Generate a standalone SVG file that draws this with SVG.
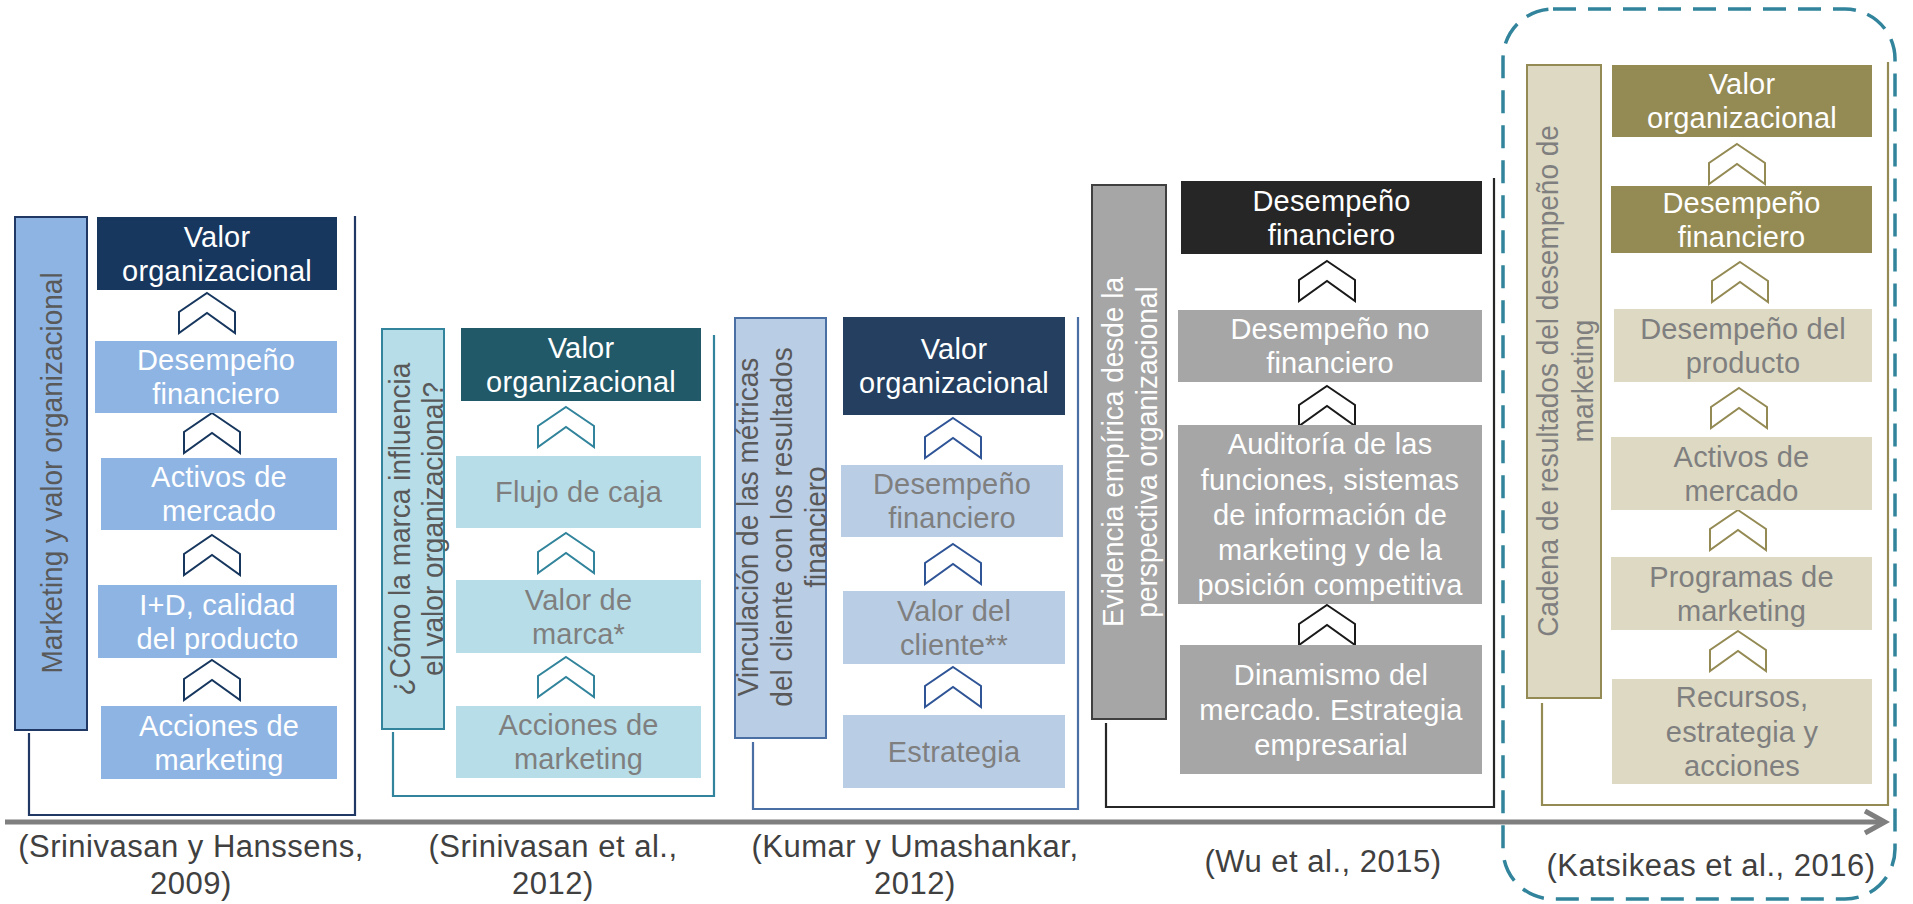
<svg xmlns="http://www.w3.org/2000/svg" xmlns:xlink="http://www.w3.org/1999/xlink" width="1913" height="904" viewBox="0 0 1913 904">
<style>
text{font-family:"Liberation Sans",Arial,sans-serif}
.n{font-size:29px;text-anchor:middle;letter-spacing:0.2px}
.w{fill:#FFFFFF}
.g{fill:#7F7F7F}
.side{font-size:30px;text-anchor:middle}
.lab{font-size:31px;text-anchor:middle;fill:#404040;letter-spacing:0.5px}
.br{fill:none;stroke-width:2.2}
.ch{stroke-width:2}
</style>
<defs>
<path id="chev" d="M0,0 L28,19 L28,40 L0,20 L-28,40 L-28,19 Z" fill="#FFFFFF"/>
<marker id="arr" viewBox="0 0 30 30" refX="25" refY="15" markerWidth="30" markerHeight="30" markerUnits="userSpaceOnUse" orient="auto">
<path d="M5,4 L25,15 L5,26" fill="none" stroke="#7F7F7F" stroke-width="5"/>
</marker>
</defs>
<rect width="1913" height="904" fill="#FFFFFF"/>

<g id="connectors">
<path class="br" stroke="#1F3864" d="M29,733 V815 H355 V216"/>
<path class="br" stroke="#31849B" d="M393,732 V796 H714 V335"/>
<path class="br" stroke="#4A6FA5" d="M753,742 V809 H1078 V317"/>
<path class="br" stroke="#262626" d="M1106,723 V807 H1494 V178"/>
<path class="br" stroke="#948A54" d="M1542,703 V805 H1888 V62"/>
<line x1="5" y1="822" x2="1885" y2="822" stroke="#7F7F7F" stroke-width="5" marker-end="url(#arr)"/>
<g class="ch" stroke="#17375E">
<use href="#chev" x="207" y="293"/>
<use href="#chev" x="212" y="413"/>
<use href="#chev" x="212" y="535"/>
<use href="#chev" x="212" y="660"/>
</g>
<g class="ch" stroke="#31849B">
<use href="#chev" x="566" y="407"/>
<use href="#chev" x="566" y="533"/>
<use href="#chev" x="566" y="657"/>
</g>
<g class="ch" stroke="#2F5597">
<use href="#chev" x="953" y="418"/>
<use href="#chev" x="953" y="544"/>
<use href="#chev" x="953" y="667"/>
</g>
<g class="ch" stroke="#1A1A1A">
<use href="#chev" x="1327" y="261"/>
<use href="#chev" x="1327" y="386"/>
<use href="#chev" x="1327" y="605"/>
</g>
<g class="ch" stroke="#948A54">
<use href="#chev" x="1737" y="144"/>
<use href="#chev" x="1740" y="262"/>
<use href="#chev" x="1739" y="388"/>
<use href="#chev" x="1738" y="510"/>
<use href="#chev" x="1738" y="631"/>
</g>
</g>

<g id="highlight">
<rect x="1503" y="9" width="392" height="890" rx="50" ry="50" fill="none" stroke="#31849B" stroke-width="3.5" stroke-dasharray="23 12"/>
</g>

<!-- Section 1 -->
<g id="s1-side">
<rect x="15" y="217" width="72" height="513" fill="#8EB4E3" stroke="#1F3864" stroke-width="2"/>
<text class="side" fill="#595959" transform="translate(62,473) rotate(-90) scale(0.933,1)">Marketing y valor organizacional</text>
</g>
<g id="s1-valor">
<rect x="97" y="217" width="240" height="73" fill="#17375E"/>
<text class="n w" x="217" y="246.5">Valor</text>
<text class="n w" x="217" y="280.5">organizacional</text>
</g>
<g id="s1-desempeno">
<rect x="95" y="341" width="242" height="72" fill="#8EB4E3"/>
<text class="n w" x="216" y="370">Desempeño</text>
<text class="n w" x="216" y="404">financiero</text>
</g>
<g id="s1-activos">
<rect x="101" y="458" width="236" height="72" fill="#8EB4E3"/>
<text class="n w" x="219" y="487">Activos de</text>
<text class="n w" x="219" y="521">mercado</text>
</g>
<g id="s1-id">
<rect x="98" y="585" width="239" height="73" fill="#8EB4E3"/>
<text class="n w" x="217.5" y="614.5">I+D, calidad</text>
<text class="n w" x="217.5" y="648.5">del producto</text>
</g>
<g id="s1-acciones">
<rect x="101" y="706" width="236" height="73" fill="#8EB4E3"/>
<text class="n w" x="219" y="735.5">Acciones de</text>
<text class="n w" x="219" y="769.5">marketing</text>
</g>
<g id="s1-label">
<text class="lab" x="191" y="857">(Srinivasan y Hanssens,</text>
<text class="lab" x="191" y="894">2009)</text>
</g>

<!-- Section 2 -->
<g id="s2-side">
<rect x="382" y="329" width="62" height="400" fill="#B7DDE8" stroke="#31849B" stroke-width="2"/>
<text class="side" fill="#595959" transform="translate(410,529) rotate(-90) scale(0.933,1)">¿Cómo la marca influencia</text>
<text class="side" fill="#595959" transform="translate(443,529) rotate(-90) scale(0.933,1)">el valor organizacional?</text>
</g>
<g id="s2-valor">
<rect x="461" y="328" width="240" height="73" fill="#215968"/>
<text class="n w" x="581" y="357.5">Valor</text>
<text class="n w" x="581" y="391.5">organizacional</text>
</g>
<g id="s2-flujo">
<rect x="456" y="456" width="245" height="72" fill="#B7DDE8"/>
<text class="n g" x="578.5" y="502">Flujo de caja</text>
</g>
<g id="s2-marca">
<rect x="456" y="580" width="245" height="73" fill="#B7DDE8"/>
<text class="n g" x="578.5" y="609.5">Valor de</text>
<text class="n g" x="578.5" y="643.5">marca*</text>
</g>
<g id="s2-acciones">
<rect x="456" y="706" width="245" height="72" fill="#B7DDE8"/>
<text class="n g" x="578.5" y="735">Acciones de</text>
<text class="n g" x="578.5" y="769">marketing</text>
</g>
<g id="s2-label">
<text class="lab" x="553" y="857">(Srinivasan et al.,</text>
<text class="lab" x="553" y="894">2012)</text>
</g>

<!-- Section 3 -->
<g id="s3-side">
<rect x="735" y="318" width="91" height="420" fill="#B9CDE5" stroke="#4A6FA5" stroke-width="2"/>
<text class="side" fill="#595959" transform="translate(758,527) rotate(-90) scale(0.933,1)">Vinculación de las métricas</text>
<text class="side" fill="#595959" transform="translate(792,527) rotate(-90) scale(0.933,1)">del cliente con los resultados</text>
<text class="side" fill="#595959" transform="translate(826,527) rotate(-90) scale(0.933,1)">financiero</text>
</g>
<g id="s3-valor">
<rect x="843" y="317" width="222" height="98" fill="#243F60"/>
<text class="n w" x="954" y="359">Valor</text>
<text class="n w" x="954" y="393">organizacional</text>
</g>
<g id="s3-desempeno">
<rect x="841" y="465" width="222" height="72" fill="#B9CDE5"/>
<text class="n g" x="952" y="494">Desempeño</text>
<text class="n g" x="952" y="528">financiero</text>
</g>
<g id="s3-cliente">
<rect x="843" y="591" width="222" height="73" fill="#B9CDE5"/>
<text class="n g" x="954" y="620.5">Valor del</text>
<text class="n g" x="954" y="654.5">cliente**</text>
</g>
<g id="s3-estrategia">
<rect x="843" y="715" width="222" height="73" fill="#B9CDE5"/>
<text class="n g" x="954" y="761.5">Estrategia</text>
</g>
<g id="s3-label">
<text class="lab" x="915" y="857">(Kumar y Umashankar,</text>
<text class="lab" x="915" y="894">2012)</text>
</g>

<!-- Section 4 -->
<g id="s4-side">
<rect x="1092" y="185" width="74" height="534" fill="#A6A6A6" stroke="#404040" stroke-width="2"/>
<text class="side" fill="#FFFFFF" transform="translate(1123,452) rotate(-90) scale(0.933,1)">Evidencia empírica desde la</text>
<text class="side" fill="#FFFFFF" transform="translate(1157,452) rotate(-90) scale(0.933,1)">perspectiva organizacional</text>
</g>
<g id="s4-financiero">
<rect x="1181" y="181" width="301" height="73" fill="#262626"/>
<text class="n w" x="1331.5" y="210.5">Desempeño</text>
<text class="n w" x="1331.5" y="244.5">financiero</text>
</g>
<g id="s4-nofinanciero">
<rect x="1178" y="310" width="304" height="72" fill="#A6A6A6"/>
<text class="n w" x="1330" y="339">Desempeño no</text>
<text class="n w" x="1330" y="373">financiero</text>
</g>
<g id="s4-auditoria">
<rect x="1178" y="425" width="304" height="179" fill="#A6A6A6"/>
<text class="n w" x="1330" y="454">Auditoría de las</text>
<text class="n w" x="1330" y="489.5">funciones, sistemas</text>
<text class="n w" x="1330" y="524.5">de información de</text>
<text class="n w" x="1330" y="559.5">marketing y de la</text>
<text class="n w" x="1330" y="595">posición competitiva</text>
</g>
<g id="s4-dinamismo">
<rect x="1180" y="645" width="302" height="129" fill="#A6A6A6"/>
<text class="n w" x="1331" y="684.5">Dinamismo del</text>
<text class="n w" x="1331" y="719.5">mercado. Estrategia</text>
<text class="n w" x="1331" y="754.5">empresarial</text>
</g>
<g id="s4-label">
<text class="lab" x="1323" y="872">(Wu et al., 2015)</text>
</g>

<!-- Section 5 -->
<g id="s5-side">
<rect x="1527" y="65" width="74" height="633" fill="#DDD9C3" stroke="#948A54" stroke-width="2"/>
<text class="side" fill="#7F7F7F" transform="translate(1558,381) rotate(-90) scale(0.933,1)">Cadena de resultados del desempeño de</text>
<text class="side" fill="#7F7F7F" transform="translate(1593,381) rotate(-90) scale(0.933,1)">marketing</text>
</g>
<g id="s5-valor">
<rect x="1612" y="65" width="260" height="72" fill="#948A54"/>
<text class="n w" x="1742" y="94">Valor</text>
<text class="n w" x="1742" y="128">organizacional</text>
</g>
<g id="s5-financiero">
<rect x="1611" y="186" width="261" height="67" fill="#948A54"/>
<text class="n w" x="1741.5" y="212.5">Desempeño</text>
<text class="n w" x="1741.5" y="246.5">financiero</text>
</g>
<g id="s5-producto">
<rect x="1614" y="309" width="258" height="73" fill="#DDD9C3"/>
<text class="n g" x="1743" y="338.5">Desempeño del</text>
<text class="n g" x="1743" y="372.5">producto</text>
</g>
<g id="s5-activos">
<rect x="1611" y="437" width="261" height="73" fill="#DDD9C3"/>
<text class="n g" x="1741.5" y="466.5">Activos de</text>
<text class="n g" x="1741.5" y="500.5">mercado</text>
</g>
<g id="s5-programas">
<rect x="1611" y="557" width="261" height="73" fill="#DDD9C3"/>
<text class="n g" x="1741.5" y="586.5">Programas de</text>
<text class="n g" x="1741.5" y="620.5">marketing</text>
</g>
<g id="s5-recursos">
<rect x="1612" y="679" width="260" height="105" fill="#DDD9C3"/>
<text class="n g" x="1742" y="707">Recursos,</text>
<text class="n g" x="1742" y="741.5">estrategia y</text>
<text class="n g" x="1742" y="776">acciones</text>
</g>
<g id="s5-label">
<text class="lab" x="1711" y="876">(Katsikeas et al., 2016)</text>
</g>
</svg>
